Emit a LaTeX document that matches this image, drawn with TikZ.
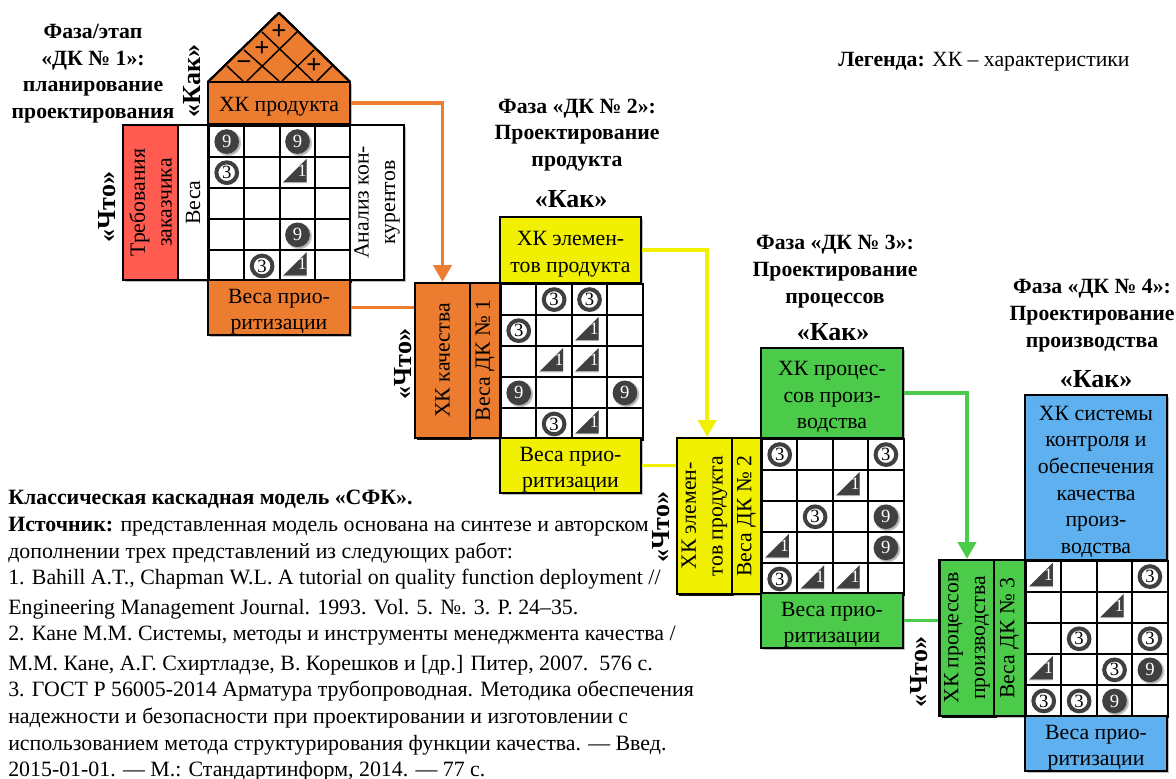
\documentclass[tikz,border=0pt]{standalone}
\usepackage{fontspec}
\setmainfont{Liberation Serif}
\usetikzlibrary{arrows.meta,shadows}
\definecolor{qfdorange}{HTML}{EC7C30}
\definecolor{qfdyellow}{HTML}{F0F000}
\definecolor{qfdgreen}{HTML}{4CCB4A}
\definecolor{qfdblue}{HTML}{5FB0EE}
\definecolor{qfdred}{HTML}{FF5B50}
\definecolor{qfddark}{HTML}{404040}
\def\unitpx{0.75pt}
\tikzset{
  boxsize/.style 2 args={minimum width=#1*\unitpx,minimum height=#2*\unitpx},
  qfdbox/.style={draw=black,line width=1.7pt,inner sep=0pt,align=center,
    font=\fontsize{16.3}{20}\selectfont,
    drop shadow={shadow xshift=1.5pt,shadow yshift=-1.5pt,opacity=.25,fill=black}},
  cellbox/.style={draw=black,line width=1.5pt,inner sep=0pt,anchor=north west,
    boxsize={35.4}{31.1}},
  rate9/.style={circle,fill=qfddark,text=white,inner sep=0pt,minimum size=18.5pt,
    font=\fontsize{14}{14}\selectfont,
    circular drop shadow={shadow xshift=.8pt,shadow yshift=-.8pt,opacity=.3,fill=black}},
  rate3/.style={circle,draw=qfddark,line width=3pt,fill=white,inner sep=0pt,minimum size=15.5pt,
    font=\fontsize{14}{14}\selectfont,
    circular drop shadow={shadow xshift=.8pt,shadow yshift=-.8pt,opacity=.3,fill=black}},
  rate1/.style={inner sep=0pt,text width=18pt,align=right,minimum height=19pt,
    xshift=-2.2pt,yshift=1.4pt,text=white,font=\fontsize{13}{13}\selectfont,
    path picture={
      \fill[black,opacity=.25] ([xshift=-.2pt,yshift=.2pt]path picture bounding box.south west)
        -- ([xshift=.8pt,yshift=-.2pt]path picture bounding box.north east)
        -- ([xshift=.8pt,yshift=.2pt]path picture bounding box.south east) -- cycle;
      \fill[qfddark] ([xshift=.6pt,yshift=1pt]path picture bounding box.south west)
        -- ([xshift=0pt,yshift=-.6pt]path picture bounding box.north east)
        -- ([xshift=0pt,yshift=1pt]path picture bounding box.south east) -- cycle;}},
  headtext/.style={align=center,font=\fontsize{16.3}{20}\selectfont\bfseries},
  askhow/.style={font=\fontsize{19.5}{20}\selectfont\bfseries,inner sep=0pt},
  askwhat/.style={font=\fontsize{19.5}{20}\selectfont\bfseries,inner sep=0pt,rotate=90},
  flowline/.style={line width=2.6pt},
  flowarrow/.style={line width=2.6pt,-{Triangle[length=12.5pt,width=13.5pt]}},
}
\newcommand\ratinggrid[3]{%
  \foreach \r in {1,...,5} \foreach \c in {1,...,4}
    \node[cellbox] (#1-\r-\c) at ({#2+(\c-1)*35.4},{#3+(\r-1)*31.1}) {};
}
\newcommand\ratingmark[2]{\node[rate#2] (mark-#1) at (#1) {#2};}
\newcommand\toplift{\rule{0pt}{17pt}}
\begin{document}
\begin{tikzpicture}[x=0.75pt,y=-0.75pt]
  \useasboundingbox (0,0) rectangle (1176,778);
  % house 1
  \ratinggrid{hA}{208}{125}
  \foreach \r/\c/\v in {1/1/9,1/3/9,2/1/3,2/3/1,4/3/9,5/2/3,5/3/1}
    \ratingmark{hA-\r-\c}{\v}
  \filldraw[fill=qfdorange,draw=black,line width=1.5pt,line join=round]
    (208,82) -- (279,13) -- (350,82) -- cycle;
  \draw[line width=1.1pt] (262,32) -- (313,81) (244,50) -- (279,81) (227,66) -- (243,81)
    (297,32) -- (247,81) (314,50) -- (282,81) (332,66) -- (317,81);
  \foreach \x/\y/\s [count=\i] in {279/32/+,262/49/+,244/66/−,314/66/+}
    \node[font=\fontsize{20}{20}\selectfont\bfseries,inner sep=0pt] (roof\i) at (\x,\y) {\s};
  \node[qfdbox,boxsize={142}{42},fill=qfdorange] (howA) at (279,103) {\toplift ХК продукта};
  \node[qfdbox,boxsize={155}{55},fill=qfdred,rotate=90] (needs) at (150.5,202.5) {Требования\\заказчика};
  \node[qfdbox,boxsize={155}{30},fill=white,rotate=90] (weightsA) at (193,202.5) {Веса};
  \node[qfdbox,boxsize={155}{54},fill=white,rotate=90] (rivals) at (377,202.5) {Анализ кон-\\курентов};
  \node[qfdbox,boxsize={142}{55},fill=qfdorange] (prioA) at (279,307.5) {\toplift Веса прио-\\ритизации};
  % house 2
  \ratinggrid{hB}{500}{283}
  \foreach \r/\c/\v in {1/2/3,1/3/3,2/1/3,2/3/1,3/2/1,3/3/1,4/1/9,4/4/9,5/2/3,5/3/1}
    \ratingmark{hB-\r-\c}{\v}
  \node[qfdbox,boxsize={155}{55},fill=qfdorange,rotate=90] (whatB) at (442.5,360.5) {ХК качества};
  \node[qfdbox,boxsize={155}{30},fill=qfdorange,rotate=90] (inB) at (485,360.5) {Веса ДК № 1};
  \node[qfdbox,boxsize={141}{66},fill=qfdyellow] (howB) at (570.5,250) {\toplift ХК элемен-\\тов продукта};
  \node[qfdbox,boxsize={141}{55},fill=qfdyellow] (prioB) at (570.5,465.5) {\toplift Веса прио-\\ритизации};
  % house 3
  \ratinggrid{hC}{761}{438}
  \foreach \r/\c/\v in {1/1/3,1/4/3,2/3/1,3/2/3,3/4/9,4/1/1,4/4/9,5/1/3,5/2/1,5/3/1}
    \ratingmark{hC-\r-\c}{\v}
  \node[qfdbox,boxsize={156}{55},fill=qfdyellow,rotate=90] (whatC) at (704.5,516) {ХК элемен-\\тов продукта};
  \node[qfdbox,boxsize={156}{29},fill=qfdyellow,rotate=90] (inC) at (746.5,516) {Веса ДК № 2};
  \node[qfdbox,boxsize={142}{90},fill=qfdgreen] (howC) at (832,393) {\toplift ХК процес-\\сов произ-\\водства};
  \node[qfdbox,boxsize={142}{55},fill=qfdgreen] (prioC) at (832,620.5) {\toplift Веса прио-\\ритизации};
  % house 4
  \ratinggrid{hD}{1025}{560}
  \foreach \r/\c/\v in {1/1/1,1/4/3,2/3/1,3/2/3,3/4/3,4/1/1,4/3/3,4/4/9,5/1/3,5/2/3,5/3/9}
    \ratingmark{hD-\r-\c}{\v}
  \node[qfdbox,boxsize={156}{55},fill=qfdgreen,rotate=90] (whatD) at (967,638) {ХК процессов\\производства};
  \node[qfdbox,boxsize={156}{31},fill=qfdgreen,rotate=90] (inD) at (1009.5,638) {Веса ДК № 3};
  \node[qfdbox,boxsize={142}{165},fill=qfdblue] (howD) at (1096,477.5) {\toplift ХК системы\\контроля и\\обеспечения\\качества\\произ-\\водства};
  \node[qfdbox,boxsize={142}{55},fill=qfdblue] (prioD) at (1096,743.5) {\toplift Веса прио-\\ритизации};
  % links between houses
  \draw[flowarrow,qfdorange] (howA.east) -| (whatB.east);
  \draw[flowline,qfdorange] (prioA.east) -- (prioA.east -| whatB.north);
  \draw[flowarrow,qfdyellow] (howB.east) -| ([xshift=2pt]whatC.east);
  \draw[flowline,qfdyellow] (prioB.east) -- (prioB.east -| whatC.north);
  \draw[flowarrow,qfdgreen] (howC.east) -| (whatD.east);
  \draw[flowline,qfdgreen] (prioC.east) -- (prioC.east -| whatD.north);
  % captions
  \node[headtext] (phaseA) at (93,73.5) {Фаза/этап\\«ДК № 1»:\\планирование\\проектирования};
  \node[headtext] (phaseB) at (577,135) {Фаза «ДК № 2»:\\Проектирование\\продукта};
  \node[headtext] (phaseC) at (835,271.5) {Фаза «ДК № 3»:\\Проектирование\\процессов};
  \node[headtext] (phaseD) at (1092,315.5) {Фаза «ДК № 4»:\\Проектирование\\производства};
  \node[askwhat] (howtagA) at (192,81) {«Как»};
  \node[askhow] (howtagB) at (571,199) {«Как»};
  \node[askhow] (howtagC) at (833,332) {«Как»};
  \node[askhow] (howtagD) at (1096,379) {«Как»};
  \node[askwhat] (whattagA) at (107,207) {«Что»};
  \node[askwhat] (whattagB) at (403,364) {«Что»};
  \node[askwhat] (whattagC) at (661,527) {«Что»};
  \node[askwhat] (whattagD) at (919,672) {«Что»};
  \node[anchor=west,inner sep=0pt,font=\fontsize{16.3}{15}\selectfont] (legend) at (838,61.5)
    {\textbf{Легенда:} ХК – характеристики};
  \node[anchor=north west,inner sep=0pt,align=left,font=\fontsize{16.4}{20}\selectfont] (source) at (8,490) {
    \textbf{Классическая каскадная модель «СФК».}\\
    \textbf{Источник:} представленная модель основана на синтезе и авторском\\
    дополнении трех представлений из следующих работ:\\
    1. Bahill A.T., Chapman W.L. A tutorial on quality function deployment //\\[2pt]
    Engineering Management Journal. 1993. Vol. 5. №. 3. P. 24–35.\\
    2. Кане М.М. Системы, методы и инструменты менеджмента качества /\\[2pt]
    М.М. Кане, А.Г. Схиртладзе, В. Корешков и [др.] Питер, 2007.\ \ 576 с.\\
    3. ГОСТ Р 56005-2014 Арматура трубопроводная. Методика обеспечения\\
    надежности и безопасности при проектировании и изготовлении с\\
    использованием метода структурирования функции качества. — Введ.\\
    2015-01-01. — М.: Стандартинформ, 2014. — 77 с.
  };
\end{tikzpicture}
\end{document}
